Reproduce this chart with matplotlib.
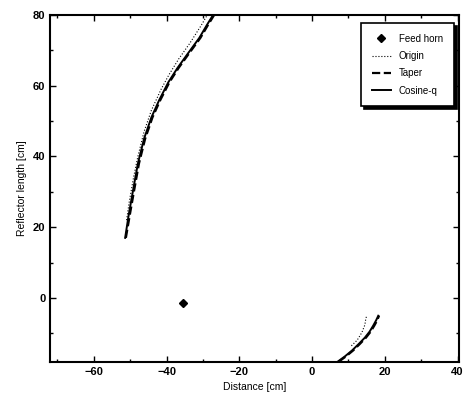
import matplotlib.pyplot as plt
from matplotlib.ticker import MultipleLocator

plt.rcParams['font.family'] = ['Liberation Sans', 'DejaVu Sans']

# feed horn position
feed_x = [-35.4]
feed_y = [-1.4]

# upper reflector section
origin_up_x = [-51.0, -50.3, -49.1, -47.9, -46.2, -44.2, -41.5, -39.4, -36.7, -33.6, -30.5, -28.8]
origin_up_y = [22, 27, 34, 40, 47, 53, 59, 63, 67.5, 72, 77, 80]
taper_up_x = [-51.2, -50.2, -49.0, -47.6, -45.9, -43.9, -41.7, -39.2, -36.7, -33.9, -30.7, -28.7, -26.9]
taper_up_y = [17, 23, 30, 38, 45, 51, 56, 61, 65, 69, 73.5, 77, 80]
cos_up_x = [-51.4, -50.5, -49.3, -47.9, -46.2, -44.2, -42.0, -39.5, -37.0, -34.2, -31.0, -29.0, -27.2]
cos_up_y = [17, 23, 30, 38, 45, 51, 56, 61, 65, 69, 73.5, 77, 80]

# lower reflector section
origin_lo_x = [10.8, 12.4, 13.7, 14.5, 14.8, 15.1]
origin_lo_y = [-13.5, -11.9, -9.7, -7.6, -5.6, -5.0]
taper_lo_x = [7.3, 9.3, 11.3, 13.1, 14.8, 16.1, 17.1, 17.9, 18.4]
taper_lo_y = [-18, -16.5, -14.8, -13, -11.2, -9.5, -7.8, -6.3, -5]
cos_lo_x = [7.0, 9.0, 11.0, 12.8, 14.5, 15.8, 16.8, 17.6, 18.2]
cos_lo_y = [-18, -16.5, -14.8, -13, -11.2, -9.5, -7.8, -6.3, -5]

fig = plt.figure(figsize=(4.65, 4.12), dpi=100)
ax = fig.add_axes([0.108, 0.122, 0.88, 0.842])

ax.plot(feed_x, feed_y, 'D', color='black', markersize=4, label='Feed horn')
ax.plot(origin_up_x, origin_up_y, ':', color='black', lw=0.8, label='Origin')
ax.plot(origin_lo_x, origin_lo_y, ':', color='black', lw=0.8)
ax.plot(taper_up_x, taper_up_y, '--', color='black', lw=1.6, label='Taper')
ax.plot(taper_lo_x, taper_lo_y, '--', color='black', lw=1.6)
ax.plot(cos_up_x, cos_up_y, '-', color='black', lw=1.4, label='Cosine-q')
ax.plot(cos_lo_x, cos_lo_y, '-', color='black', lw=1.4)

ax.set_xlim(-72, 40.5)
ax.set_ylim(-18, 80)
ax.xaxis.set_major_locator(MultipleLocator(20))
ax.xaxis.set_minor_locator(MultipleLocator(10))
ax.yaxis.set_major_locator(MultipleLocator(20))
ax.yaxis.set_minor_locator(MultipleLocator(10))
ax.tick_params(which='both', direction='in', top=True, right=True, labelsize=8)
ax.tick_params(which='major', length=4, width=1)
ax.tick_params(which='minor', length=2, width=1)
for lab in ax.get_xticklabels() + ax.get_yticklabels():
    lab.set_fontweight('bold')
for s in ax.spines.values():
    s.set_linewidth(1.5)

ax.set_xlabel('Distance [cm]', fontsize=7.5)
ax.set_ylabel('Reflector length [cm]', fontsize=7.5)

leg = ax.legend(loc='upper right', fontsize=7, frameon=True, fancybox=False,
                shadow={'color': 'black', 'alpha': 1}, edgecolor='black',
                handlelength=2.0, borderpad=1.1, labelspacing=0.75,
                bbox_to_anchor=(0.998, 0.99))
leg.get_frame().set_linewidth(1.2)

fig.savefig('out.png', dpi=100)
